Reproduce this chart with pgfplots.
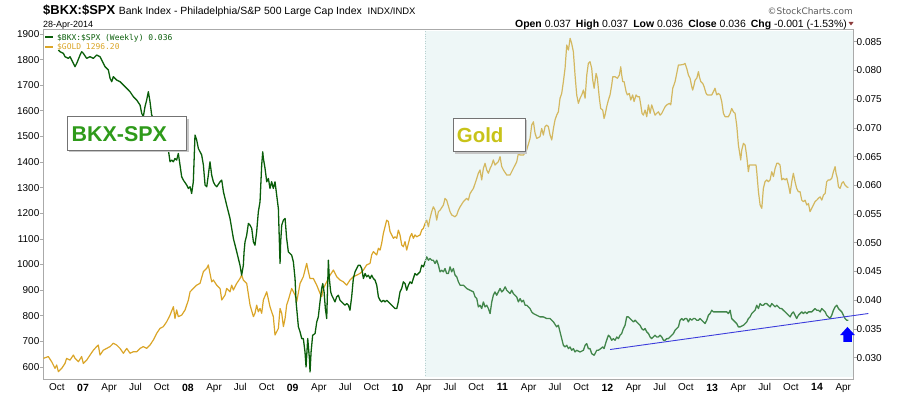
\documentclass[border=0pt]{standalone}
\usepackage{pgfplots}
\pgfplotsset{compat=1.18}
\usepackage{fontspec}
\setmainfont{Liberation Sans}
\newfontfamily\monofont{DejaVu Sans Mono}
\newfontfamily\dvsans{DejaVu Sans}
\definecolor{bkxgreen}{RGB}{10,94,10}
\definecolor{goldline}{RGB}{218,165,40}
\definecolor{shadecol}{RGB}{198,228,228}
\definecolor{framegray}{RGB}{170,170,170}
\definecolor{labelgreen}{RGB}{46,154,26}
\definecolor{labelgold}{RGB}{200,195,25}
\definecolor{trendblue}{RGB}{60,60,220}
\definecolor{tri}{RGB}{140,60,60}
\newcommand{\yr}[1]{{\bfseries\fontsize{10.5}{12}\selectfont #1}}
\begin{document}
\begin{tikzpicture}[x=1bp,y=1bp]
\useasboundingbox (0,0) rectangle (900,396);
\pgfplotsset{
  common/.style={
    at={(43bp,17bp)}, anchor=south west,
    width=810bp, height=350bp, scale only axis,
    xmin=2006.6185, xmax=2014.343,
    tick label style={font=\fontsize{10}{12}\selectfont},
    /pgf/number format/assume math mode=true,
    tick align=outside, major tick length=3.5bp,
    tick style={framegray, line width=0.6bp},
  }
}
\begin{axis}[common,
  ymin=552.4, ymax=1919.5,
  axis line style={framegray, line width=0.8bp},
  ytick={600,700,800,900,1000,1100,1200,1300,1400,1500,1600,1700,1800,1900},
  ytick pos=left,
  /pgf/number format/1000 sep={},
  yticklabel style={anchor=east, inner sep=0pt},
  xtick={2006.75,2007,2007.25,2007.5,2007.75,2008,2008.25,2008.5,2008.75,2009,2009.25,2009.5,2009.75,2010,2010.25,2010.5,2010.75,2011,2011.25,2011.5,2011.75,2012,2012.25,2012.5,2012.75,2013,2013.25,2013.5,2013.75,2014,2014.25},
  xticklabels={Oct,\yr{07},Apr,Jul,Oct,\yr{08},Apr,Jul,Oct,\yr{09},Apr,Jul,Oct,\yr{10},Apr,Jul,Oct,\yr{11},Apr,Jul,Oct,\yr{12},Apr,Jul,Oct,\yr{13},Apr,Jul,Oct,\yr{14},Apr},
  xtick pos=bottom,
  x tick style={draw=none},
  xticklabel style={anchor=north, inner sep=0pt, yshift=-1bp},
]
\addplot[goldline, line width=1.2bp, line join=round] table {
2006.622 633
2006.669 640
2006.701 620
2006.733 594
2006.749 607
2006.765 581
2006.797 594
2006.828 613
2006.844 633
2006.876 626
2006.908 646
2006.924 633
2006.956 620
2006.987 640
2007.003 613
2007.035 626
2007.067 646
2007.099 665
2007.130 679
2007.146 685
2007.162 646
2007.194 665
2007.226 672
2007.258 679
2007.289 692
2007.321 685
2007.353 672
2007.385 653
2007.417 672
2007.448 653
2007.480 659
2007.512 659
2007.544 672
2007.575 679
2007.607 672
2007.639 685
2007.671 705
2007.703 731
2007.734 750
2007.766 757
2007.798 776
2007.830 802
2007.862 835
2007.877 789
2007.893 822
2007.909 796
2007.941 802
2007.973 822
2008.005 861
2008.021 893
2008.052 906
2008.084 919
2008.116 926
2008.148 972
2008.180 985
2008.195 998
2008.211 965
2008.227 932
2008.243 939
2008.275 919
2008.307 906
2008.323 861
2008.354 880
2008.370 906
2008.402 893
2008.418 919
2008.434 900
2008.466 926
2008.497 945
2008.513 958
2008.529 939
2008.561 926
2008.593 841
2008.625 796
2008.640 809
2008.656 841
2008.672 815
2008.688 828
2008.704 809
2008.720 861
2008.752 893
2008.783 835
2008.815 796
2008.831 724
2008.847 737
2008.863 750
2008.879 828
2008.895 809
2008.911 757
2008.927 789
2008.942 841
2008.958 861
2008.990 906
2009.022 880
2009.038 854
2009.070 926
2009.101 952
2009.133 1004
2009.149 972
2009.165 945
2009.197 945
2009.229 919
2009.260 887
2009.276 874
2009.292 906
2009.324 932
2009.356 958
2009.388 978
2009.419 952
2009.451 939
2009.483 932
2009.515 919
2009.546 939
2009.578 952
2009.610 958
2009.642 965
2009.674 978
2009.705 998
2009.737 1004
2009.753 1037
2009.769 1050
2009.785 1043
2009.801 1037
2009.817 1063
2009.833 1056
2009.848 1082
2009.864 1121
2009.880 1147
2009.896 1173
2009.912 1167
2009.928 1128
2009.944 1115
2009.960 1102
2009.976 1108
2009.992 1102
2010.007 1134
2010.023 1115
2010.039 1076
2010.055 1069
2010.071 1089
2010.087 1056
2010.103 1082
2010.119 1108
2010.135 1121
2010.150 1102
2010.166 1115
2010.182 1108
2010.214 1115
2010.230 1134
2010.246 1141
2010.262 1160
2010.278 1173
2010.294 1147
2010.309 1180
2010.325 1206
2010.341 1225
2010.357 1212
2010.373 1173
2010.389 1206
2010.405 1212
2010.437 1232
2010.452 1258
2010.468 1251
2010.500 1206
2010.516 1193
2010.548 1186
2010.564 1193
2010.580 1212
2010.596 1225
2010.627 1245
2010.659 1258
2010.675 1251
2010.691 1277
2010.723 1297
2010.755 1336
2010.770 1356
2010.786 1369
2010.802 1330
2010.818 1375
2010.834 1395
2010.850 1369
2010.866 1356
2010.882 1375
2010.898 1388
2010.913 1408
2010.929 1388
2010.945 1395
2010.961 1401
2010.977 1421
2010.993 1382
2011.009 1369
2011.041 1349
2011.072 1349
2011.104 1375
2011.136 1401
2011.152 1434
2011.168 1427
2011.200 1427
2011.231 1447
2011.263 1492
2011.279 1544
2011.295 1557
2011.311 1512
2011.327 1492
2011.358 1499
2011.374 1531
2011.390 1505
2011.406 1538
2011.422 1544
2011.438 1538
2011.454 1505
2011.470 1486
2011.486 1531
2011.501 1564
2011.517 1583
2011.533 1596
2011.549 1649
2011.565 1668
2011.581 1714
2011.597 1766
2011.613 1857
2011.629 1837
2011.645 1883
2011.660 1863
2011.676 1831
2011.692 1740
2011.708 1662
2011.724 1629
2011.740 1649
2011.756 1662
2011.772 1681
2011.788 1649
2011.804 1740
2011.819 1785
2011.835 1792
2011.851 1766
2011.861 1720
2011.874 1688
2011.893 1746
2011.905 1727
2011.924 1649
2011.937 1609
2011.956 1603
2011.969 1570
2011.978 1583
2011.994 1616
2012.010 1642
2012.026 1662
2012.042 1701
2012.052 1733
2012.074 1733
2012.096 1727
2012.115 1740
2012.128 1772
2012.137 1740
2012.147 1714
2012.160 1714
2012.179 1675
2012.191 1662
2012.210 1668
2012.223 1642
2012.242 1662
2012.255 1636
2012.274 1662
2012.287 1655
2012.306 1655
2012.319 1623
2012.331 1590
2012.344 1583
2012.360 1603
2012.376 1577
2012.392 1623
2012.408 1590
2012.423 1623
2012.439 1603
2012.455 1583
2012.471 1590
2012.487 1596
2012.503 1583
2012.519 1590
2012.535 1603
2012.551 1616
2012.567 1623
2012.592 1629
2012.605 1623
2012.624 1688
2012.646 1714
2012.662 1746
2012.678 1779
2012.694 1779
2012.725 1781
2012.741 1785
2012.757 1766
2012.773 1740
2012.789 1727
2012.805 1694
2012.814 1681
2012.827 1701
2012.837 1720
2012.853 1727
2012.869 1753
2012.878 1733
2012.891 1714
2012.910 1707
2012.923 1694
2012.942 1668
2012.954 1662
2012.973 1662
2012.996 1662
2013.012 1675
2013.027 1688
2013.043 1662
2013.059 1668
2013.075 1662
2013.091 1636
2013.107 1590
2013.123 1577
2013.139 1577
2013.155 1577
2013.171 1590
2013.186 1609
2013.202 1596
2013.218 1590
2013.234 1544
2013.250 1466
2013.260 1440
2013.272 1408
2013.282 1447
2013.298 1473
2013.314 1466
2013.330 1421
2013.345 1362
2013.355 1388
2013.377 1388
2013.393 1388
2013.418 1388
2013.425 1362
2013.441 1284
2013.457 1232
2013.473 1219
2013.488 1297
2013.504 1323
2013.520 1330
2013.536 1323
2013.552 1330
2013.568 1362
2013.584 1343
2013.600 1375
2013.616 1395
2013.631 1395
2013.647 1388
2013.663 1330
2013.679 1336
2013.695 1330
2013.711 1336
2013.727 1310
2013.743 1277
2013.759 1323
2013.774 1356
2013.790 1323
2013.806 1297
2013.822 1284
2013.838 1284
2013.854 1251
2013.870 1245
2013.886 1251
2013.902 1232
2013.918 1238
2013.933 1206
2013.949 1219
2013.965 1232
2013.981 1245
2013.997 1251
2014.013 1258
2014.029 1264
2014.045 1251
2014.061 1271
2014.077 1277
2014.092 1323
2014.108 1330
2014.124 1330
2014.140 1336
2014.156 1362
2014.172 1382
2014.181 1356
2014.194 1336
2014.204 1303
2014.220 1297
2014.236 1317
2014.251 1323
2014.267 1310
2014.283 1303
2014.299 1300
};
\end{axis}
\begin{axis}[common,
  ymin=0.02629, ymax=0.08721,
  hide x axis,
  y axis line style={draw=none},
  ytick={0.030,0.035,0.040,0.045,0.050,0.055,0.060,0.065,0.070,0.075,0.080,0.085},
  ytick pos=right,
  scaled y ticks=false,
  yticklabel style={anchor=west, inner sep=0pt, /pgf/number format/.cd, fixed, fixed zerofill, precision=3},
  clip=false,
]
\addplot[bkxgreen, line width=1.3bp, line join=round] table {
2006.765 0.08356
2006.781 0.08326
2006.813 0.08297
2006.828 0.08239
2006.860 0.08210
2006.876 0.08239
2006.908 0.08123
2006.924 0.08065
2006.940 0.08123
2006.972 0.08268
2006.987 0.08326
2007.003 0.08297
2007.035 0.08210
2007.067 0.08239
2007.099 0.08210
2007.130 0.08268
2007.162 0.08239
2007.194 0.08123
2007.210 0.08065
2007.242 0.08007
2007.258 0.07862
2007.274 0.07804
2007.289 0.07891
2007.321 0.07833
2007.353 0.07804
2007.385 0.07746
2007.417 0.07688
2007.448 0.07630
2007.480 0.07543
2007.512 0.07484
2007.544 0.07397
2007.560 0.07252
2007.575 0.07194
2007.591 0.07368
2007.607 0.07484
2007.623 0.07630
2007.639 0.07455
2007.655 0.07223
2007.671 0.07165
2007.734 0.06933
2007.814 0.06613
2007.830 0.06410
2007.846 0.06439
2007.862 0.06410
2007.877 0.06468
2007.893 0.06439
2007.909 0.06555
2007.925 0.06352
2007.941 0.06149
2007.957 0.06091
2007.989 0.06004
2008.005 0.05946
2008.021 0.05975
2008.036 0.05859
2008.052 0.06062
2008.068 0.06875
2008.084 0.06788
2008.100 0.06642
2008.132 0.06526
2008.148 0.06352
2008.164 0.06004
2008.180 0.05975
2008.195 0.06178
2008.211 0.06410
2008.227 0.06178
2008.243 0.06062
2008.259 0.06004
2008.275 0.05975
2008.307 0.06062
2008.323 0.06091
2008.339 0.05888
2008.370 0.05655
2008.402 0.05423
2008.418 0.05249
2008.434 0.05075
2008.466 0.04842
2008.497 0.04610
2008.513 0.04436
2008.529 0.04610
2008.536 0.04842
2008.545 0.05016
2008.561 0.05133
2008.577 0.05336
2008.593 0.05307
2008.609 0.05249
2008.625 0.05016
2008.640 0.04958
2008.656 0.05191
2008.672 0.05539
2008.688 0.05713
2008.704 0.06352
2008.714 0.06584
2008.720 0.06468
2008.736 0.06294
2008.752 0.06062
2008.768 0.06120
2008.783 0.05946
2008.799 0.06062
2008.815 0.05946
2008.831 0.06062
2008.847 0.05829
2008.863 0.05597
2008.879 0.04639
2008.885 0.05016
2008.895 0.05307
2008.911 0.05394
2008.927 0.05423
2008.942 0.05075
2008.958 0.04842
2008.990 0.04784
2009.006 0.04668
2009.022 0.04378
2009.032 0.03971
2009.054 0.03536
2009.070 0.03449
2009.086 0.03332
2009.101 0.03332
2009.117 0.03100
2009.127 0.02839
2009.143 0.03332
2009.159 0.02984
2009.165 0.02752
2009.175 0.03100
2009.190 0.03391
2009.213 0.03420
2009.229 0.03623
2009.244 0.03710
2009.260 0.03971
2009.276 0.04204
2009.286 0.04291
2009.299 0.04145
2009.311 0.03855
2009.324 0.03681
2009.333 0.04262
2009.340 0.04697
2009.349 0.04378
2009.362 0.04145
2009.372 0.04087
2009.388 0.04029
2009.403 0.03971
2009.419 0.04058
2009.435 0.04087
2009.451 0.04000
2009.467 0.03971
2009.483 0.03942
2009.499 0.03913
2009.515 0.03942
2009.531 0.03913
2009.546 0.03826
2009.562 0.04058
2009.578 0.04378
2009.594 0.04494
2009.610 0.04552
2009.626 0.04610
2009.642 0.04610
2009.658 0.04552
2009.674 0.04378
2009.690 0.04465
2009.705 0.04407
2009.721 0.04436
2009.737 0.04378
2009.753 0.04436
2009.769 0.04378
2009.785 0.04349
2009.801 0.04262
2009.817 0.04058
2009.833 0.04000
2009.848 0.03971
2009.864 0.04000
2009.880 0.03971
2009.896 0.04000
2009.912 0.03971
2009.928 0.03942
2009.944 0.03913
2009.960 0.03884
2009.976 0.03855
2009.992 0.03855
2010.007 0.03971
2010.023 0.04145
2010.039 0.04204
2010.055 0.04320
2010.071 0.04291
2010.087 0.04174
2010.103 0.04262
2010.119 0.04320
2010.135 0.04291
2010.150 0.04378
2010.166 0.04465
2010.182 0.04436
2010.214 0.04494
2010.230 0.04610
2010.246 0.04581
2010.262 0.04668
2010.278 0.04755
2010.294 0.04697
2010.309 0.04726
2010.325 0.04697
2010.341 0.04697
2010.357 0.04639
2010.373 0.04697
2010.389 0.04610
2010.405 0.04494
2010.421 0.04523
2010.437 0.04494
2010.452 0.04552
2010.468 0.04465
2010.484 0.04465
2010.500 0.04581
2010.516 0.04494
2010.532 0.04552
2010.548 0.04436
2010.564 0.04407
2010.580 0.04320
2010.596 0.04262
2010.627 0.04262
2010.659 0.04204
2010.691 0.04174
2010.723 0.04145
2010.739 0.04058
2010.755 0.04029
2010.770 0.03884
2010.786 0.03913
2010.802 0.03855
2010.818 0.03971
2010.834 0.03884
2010.850 0.03913
2010.866 0.03855
2010.882 0.03768
2010.898 0.03971
2010.913 0.04087
2010.929 0.04145
2010.945 0.04087
2010.961 0.04145
2010.977 0.04204
2010.993 0.04145
2011.009 0.04174
2011.025 0.04233
2011.041 0.04174
2011.056 0.04145
2011.072 0.04116
2011.088 0.04174
2011.104 0.04116
2011.120 0.04087
2011.136 0.04058
2011.152 0.03971
2011.168 0.04029
2011.184 0.03971
2011.200 0.04000
2011.216 0.03913
2011.231 0.03913
2011.263 0.03855
2011.279 0.03797
2011.295 0.03768
2011.327 0.03739
2011.358 0.03710
2011.390 0.03710
2011.422 0.03681
2011.454 0.03681
2011.486 0.03623
2011.517 0.03536
2011.533 0.03565
2011.549 0.03449
2011.565 0.03332
2011.581 0.03216
2011.597 0.03187
2011.613 0.03216
2011.629 0.03158
2011.645 0.03187
2011.660 0.03129
2011.676 0.03158
2011.692 0.03100
2011.708 0.03129
2011.740 0.03100
2011.772 0.03129
2011.788 0.03216
2011.804 0.03245
2011.819 0.03158
2011.835 0.03158
2011.851 0.03071
2011.874 0.03042
2011.883 0.03071
2011.899 0.03129
2011.915 0.03129
2011.937 0.03158
2011.956 0.03187
2011.969 0.03158
2011.988 0.03274
2012.010 0.03391
2012.026 0.03361
2012.042 0.03303
2012.058 0.03332
2012.074 0.03303
2012.090 0.03361
2012.106 0.03332
2012.121 0.03391
2012.137 0.03420
2012.153 0.03507
2012.169 0.03565
2012.185 0.03710
2012.201 0.03710
2012.217 0.03681
2012.233 0.03652
2012.249 0.03623
2012.265 0.03652
2012.280 0.03623
2012.296 0.03594
2012.312 0.03565
2012.328 0.03507
2012.344 0.03478
2012.360 0.03507
2012.376 0.03449
2012.392 0.03420
2012.408 0.03361
2012.423 0.03332
2012.439 0.03361
2012.455 0.03391
2012.471 0.03361
2012.487 0.03361
2012.503 0.03391
2012.519 0.03361
2012.535 0.03303
2012.551 0.03303
2012.567 0.03332
2012.582 0.03332
2012.598 0.03361
2012.614 0.03391
2012.630 0.03420
2012.646 0.03478
2012.662 0.03507
2012.678 0.03536
2012.694 0.03652
2012.710 0.03681
2012.725 0.03652
2012.741 0.03681
2012.757 0.03681
2012.773 0.03623
2012.789 0.03681
2012.805 0.03652
2012.821 0.03681
2012.837 0.03681
2012.853 0.03652
2012.869 0.03652
2012.884 0.03681
2012.900 0.03652
2012.916 0.03623
2012.932 0.03594
2012.948 0.03652
2012.964 0.03739
2012.980 0.03768
2012.996 0.03826
2013.012 0.03797
2013.043 0.03797
2013.075 0.03797
2013.107 0.03797
2013.139 0.03797
2013.155 0.03768
2013.171 0.03826
2013.186 0.03681
2013.202 0.03652
2013.218 0.03623
2013.234 0.03594
2013.250 0.03536
2013.266 0.03536
2013.298 0.03565
2013.330 0.03623
2013.345 0.03681
2013.361 0.03710
2013.377 0.03768
2013.393 0.03797
2013.409 0.03826
2013.425 0.03913
2013.441 0.03855
2013.457 0.03942
2013.473 0.03913
2013.488 0.03913
2013.504 0.03942
2013.520 0.03942
2013.536 0.03913
2013.552 0.03884
2013.568 0.03942
2013.584 0.03913
2013.600 0.03884
2013.616 0.03913
2013.631 0.03884
2013.647 0.03855
2013.663 0.03855
2013.679 0.03826
2013.695 0.03797
2013.711 0.03768
2013.727 0.03739
2013.743 0.03710
2013.759 0.03768
2013.774 0.03797
2013.790 0.03739
2013.806 0.03681
2013.822 0.03739
2013.838 0.03768
2013.854 0.03797
2013.870 0.03768
2013.886 0.03797
2013.902 0.03768
2013.918 0.03797
2013.933 0.03797
2013.949 0.03797
2013.965 0.03826
2013.981 0.03855
2013.997 0.03826
2014.013 0.03826
2014.029 0.03797
2014.045 0.03855
2014.061 0.03826
2014.077 0.03797
2014.092 0.03739
2014.108 0.03710
2014.124 0.03681
2014.140 0.03739
2014.156 0.03826
2014.172 0.03884
2014.188 0.03913
2014.204 0.03855
2014.220 0.03826
2014.236 0.03797
2014.251 0.03739
2014.267 0.03681
2014.283 0.03652
2014.299 0.03652
};
% shaded overlay
\fill[fill=shadecol, opacity=0.3] (axis cs:2010.261,0.08686) rectangle (axis cs:2014.343,0.02664);
\draw[draw=shadecol!80!gray, line width=0.5bp, dotted] (axis cs:2010.261,0.08686) -- (axis cs:2010.261,0.02664);
% trend line
\addplot[trendblue, line width=0.9bp] coordinates {(2012.026,0.03142) (2014.489,0.03769)};
% arrow
\fill[blue] (axis cs:2014.290,0.03535) -- (axis cs:2014.362,0.03391) -- (axis cs:2014.331,0.03391) -- (axis cs:2014.331,0.03274) -- (axis cs:2014.251,0.03274) -- (axis cs:2014.251,0.03391) -- (axis cs:2014.219,0.03391) -- cycle;
\end{axis}
% legend
\draw[bkxgreen, line width=2bp] (45,358.7) -- (53,358.7);
\draw[goldline, line width=2bp] (45,349.3) -- (53,349.3);
\node[anchor=base west, inner sep=0, text=bkxgreen] at (57,356) {\monofont\fontsize{8}{10}\selectfont \$BKX:\$SPX (Weekly) 0.036};
\node[anchor=base west, inner sep=0, text=goldline] at (57,346.5) {\monofont\fontsize{8}{10}\selectfont \$GOLD 1296.20};
% label boxes
\fill[gray!45] (69.3,244) rectangle (188.7,277.3);
\filldraw[fill=white, draw=gray!90!black, line width=0.8bp] (67.3,246) rectangle (186.7,279.3);
\node[anchor=base west, inner sep=0, text=labelgreen] at (71.5,254.3) {\fontsize{21.5}{24}\selectfont\bfseries BKX-SPX};
\fill[gray!45] (455.3,242.3) rectangle (527,275.7);
\filldraw[fill=white, draw=gray!90!black, line width=0.8bp] (453.3,244.3) rectangle (525,277.7);
\node[anchor=base west, inner sep=0, text=labelgold] at (456.7,253.3) {\fontsize{20.5}{23}\selectfont\bfseries Gold};
% header
\node[anchor=base west, inner sep=0] at (43,382) {\fontsize{13}{15}\selectfont\bfseries \$BKX:\$SPX\ \fontsize{10.5}{12}\selectfont\mdseries Bank Index - Philadelphia/S\&P 500 Large Cap Index\ \ \fontsize{9.5}{11}\selectfont INDX/INDX};
\node[anchor=base west, inner sep=0] at (43,369) {\fontsize{9}{11}\selectfont 28-Apr-2014};
\node[anchor=base east, inner sep=0, text={rgb,255:red,90;green,90;blue,90}] at (853,382) {\dvsans\fontsize{9}{11}\selectfont \textcopyright StockCharts.com};
\node[anchor=base east, inner sep=0] at (847,369) {\fontsize{10.5}{12}\selectfont \textbf{Open} 0.037\hspace{5bp}\textbf{High} 0.037\hspace{5bp}\textbf{Low} 0.036\hspace{5bp}\textbf{Close} 0.036\hspace{5bp}\textbf{Chg} -0.001 (-1.53\%)};
\fill[tri] (848.5,374) -- (853.5,374) -- (851,370.5) -- cycle;
\end{tikzpicture}
\end{document}
